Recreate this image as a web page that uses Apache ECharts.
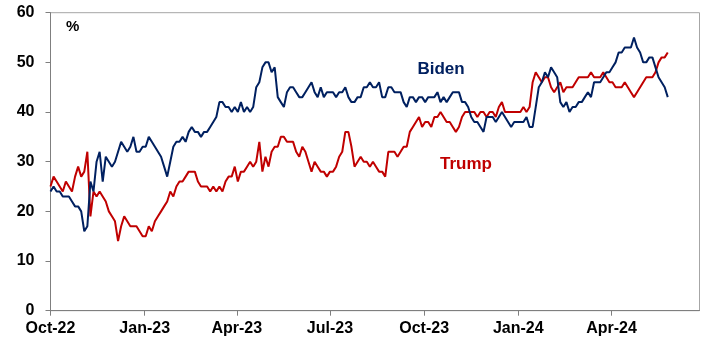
<!DOCTYPE html>
<html>
<head>
<meta charset="utf-8">
<script src="https://cdn.jsdelivr.net/npm/echarts@6/dist/echarts.min.js"></script>
<style>
html,body{margin:0;padding:0;background:#fff;}
#chart{width:705px;height:340px;}
</style>
</head>
<body>
<div id="chart"></div>
<script>
// ---- data ----
const startDate = '2022-10-01';   // first observation
const stepDays = 3;               // spacing of observations
const endDate = '2024-06-26';     // right edge of the axis

const tickDates = ['2022-10-01','2023-01-01','2023-04-01','2023-07-01','2023-10-01','2024-01-01','2024-04-01'];
const tickLabels = ['Oct-22','Jan-23','Apr-23','Jul-23','Oct-23','Jan-24','Apr-24'];

const yTicks = [0, 10, 20, 30, 40, 50, 60];

const biden = [
  24,25,24,24,23,23,23,22,21,21,
  20,16,17,26,24,30,32,26,31,30,
  29,30,32,34,33,32,33,35,32,32,
  33,33,35,34,33,32,31,29,27,30,
  33,34,34,35,34,36,37,36,36,35,
  36,36,37,38,39,42,42,41,41,40,
  41,40,42,40,41,40,41,45,46,49,
  50,50,48,49,43,42,41,44,45,45,
  44,43,43,44,45,46,44,43,45,43,
  44,44,44,43,44,44,45,43,42,42,
  43,43,45,45,46,45,45,46,43,43,
  45,45,44,44,44,42,41,43,43,42,
  43,43,42,43,43,43,44,42,43,42,
  43,44,44,44,42,42,41,39,38,38,
  37,36,39,39,39,38,39,40,39,38,
  37,38,38,38,38,39,37,37,41,45,
  46,48,47,49,48,47,42,41,42,40,
  41,41,42,42,43,44,43,46,46,46,
  47,48,48,49,50,52,52,53,53,53,
  55,53,52,50,50,51,51,49,47,46,
  45,43
];

const trump = [
  25,27,26,25,24,26,25,24,27,29,
  27,28,32,19,24,23,24,23,22,20,
  19,18,14,17,19,18,17,17,17,16,
  15,15,17,16,18,19,20,21,22,24,
  23,25,26,26,27,28,28,28,26,25,
  25,25,24,25,24,25,24,26,27,27,
  29,26,28,28,29,30,29,30,34,28,
  31,29,32,33,33,35,35,34,34,34,
  32,31,33,32,30,28,30,29,28,28,
  27,28,28,29,31,32,36,36,33,29,
  30,31,30,30,29,30,29,28,28,27,
  32,32,32,31,32,33,33,36,37,38,
  39,37,38,38,37,39,39,40,39,38,
  38,37,36,37,39,40,40,40,40,39,
  40,40,39,40,40,39,41,42,40,40,
  40,40,40,40,41,40,41,46,48,47,
  46,47,47,45,44,45,46,44,45,45,
  45,46,47,47,47,47,48,47,47,47,
  48,47,46,46,45,45,45,46,45,44,
  43,44,45,46,47,47,47,48,50,51,
  51,52
];

// ---- build ----
const DAY = 864e5;
const t0 = Date.parse(startDate);
const dayOf = s => Math.round((Date.parse(s) - t0) / DAY);
const tickDays = tickDates.map(dayOf);
const maxDay = dayOf(endDate);
const toPairs = arr => arr.map((v, i) => [i * stepDays, v]);

const chart = echarts.init(document.getElementById('chart'), null, {renderer: 'canvas'});
const labelFont = {color: '#000', fontFamily: 'Liberation Sans, Arial, sans-serif', fontWeight: 'bold', fontSize: 16};

chart.setOption({
  animation: false,
  backgroundColor: '#fff',
  grid: {left: 50.5, right: 5.5, top: 12.7, bottom: 29.3, show: true, borderColor: '#a6a6a6', borderWidth: 1, backgroundColor: 'transparent'},
  xAxis: {
    type: 'value',
    min: 0,
    max: maxDay,
    splitLine: {show: false},
    axisLine: {show: true, onZero: false, lineStyle: {color: '#7f7f7f', width: 1}},
    axisTick: {show: true, length: 5, lineStyle: {color: '#7f7f7f'}, customValues: tickDays},
    axisLabel: Object.assign({
      margin: 10,
      customValues: tickDays,
      formatter: v => { const k = tickDays.indexOf(Math.round(v)); return k >= 0 ? tickLabels[k] : ''; }
    }, labelFont)
  },
  yAxis: {
    type: 'value',
    min: yTicks[0],
    max: yTicks[yTicks.length - 1],
    interval: yTicks[1] - yTicks[0],
    splitLine: {show: false},
    axisLine: {show: true, lineStyle: {color: '#7f7f7f', width: 1}},
    axisTick: {show: true, length: 5, lineStyle: {color: '#7f7f7f'}},
    axisLabel: Object.assign({margin: 16}, labelFont)
  },
  series: [
    {name: 'Trump', type: 'line', data: toPairs(trump), showSymbol: false, symbol: 'none',
     lineStyle: {color: '#C00000', width: 2}, itemStyle: {color: '#C00000'}},
    {name: 'Biden', type: 'line', data: toPairs(biden), showSymbol: false, symbol: 'none',
     lineStyle: {color: '#002060', width: 2}, itemStyle: {color: '#002060'}}
  ],
  graphic: [
    {type: 'text', left: 66, top: 19, style: {text: '%', font: 'bold 15px "Liberation Sans", Arial, sans-serif', fill: '#000'}},
    {type: 'text', x: 441, y: 69, style: {text: 'Biden', font: 'bold 17px "Liberation Sans", Arial, sans-serif', fill: '#002060', align: 'center', verticalAlign: 'middle'}},
    {type: 'text', x: 466, y: 164, style: {text: 'Trump', font: 'bold 17px "Liberation Sans", Arial, sans-serif', fill: '#C00000', align: 'center', verticalAlign: 'middle'}}
  ]
});
</script>
</body>
</html>
